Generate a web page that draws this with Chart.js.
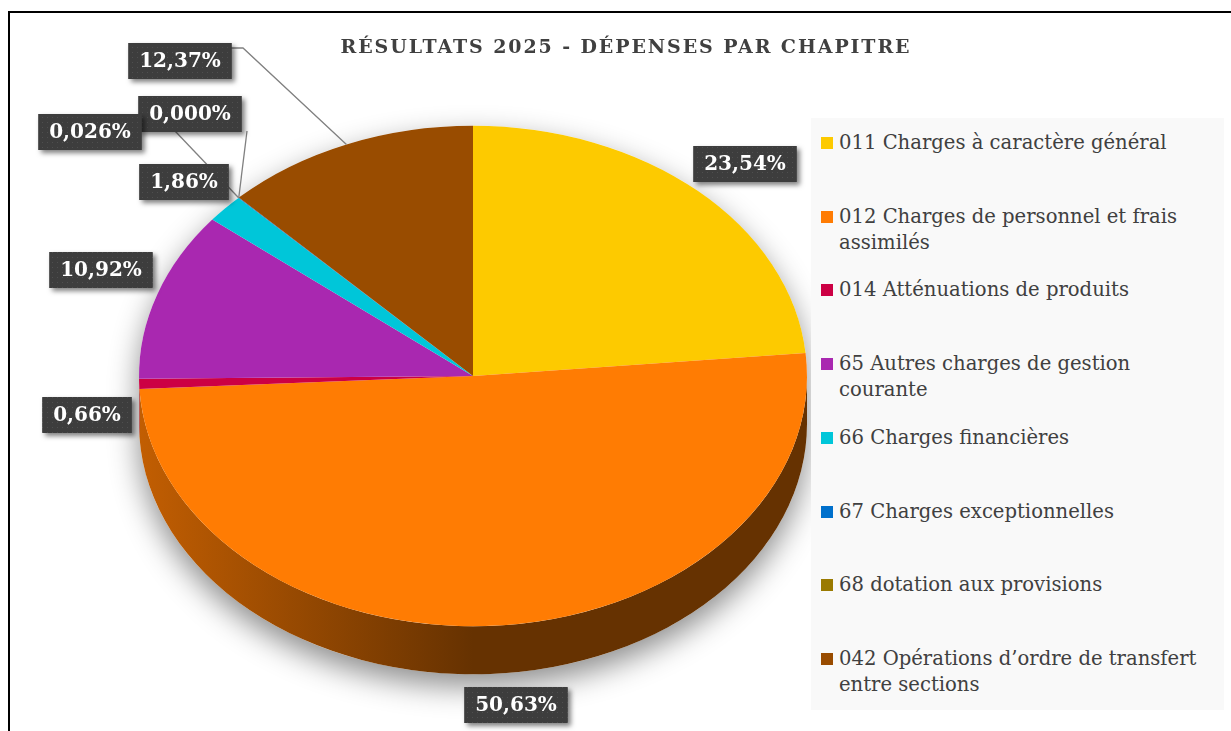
<!DOCTYPE html>
<html lang="fr">
<head>
<meta charset="utf-8">
<title>Résultats 2025 - dépenses par chapitre</title>
<script src="https://cdn.jsdelivr.net/npm/chart.js@4.4.1/dist/chart.umd.min.js"></script>
<style>
  html, body { margin: 0; padding: 0; width: 1231px; height: 731px; overflow: hidden; background: #fff; }
  #frame { position: absolute; left: 8px; top: 11px; width: 1260px; height: 760px; border: 2px solid #000; box-sizing: border-box; }
  #chart { position: absolute; left: 0; top: 0; }
  #title { position: absolute; left: 0; top: 35px; width: 1252px; text-align: center;
           font: bold 19px "DejaVu Serif", serif; letter-spacing: 1.9px; color: #404040; }
  #legend { position: absolute; left: 811px; top: 118px; width: 413px; height: 592px; background: #f9f9f9; }
  .item { position: absolute; left: 0; width: 413px; font: 19.6px/26px "DejaVu Serif", serif; color: #404040; }
  .item .box { position: absolute; left: 10px; top: 7px; width: 12px; height: 12px; }
  .item .txt { position: absolute; left: 28px; top: 0; white-space: nowrap; }
</style>
</head>
<body>
<div id="frame"></div>
<canvas id="chart" width="1231" height="731"></canvas>
<div id="title">RÉSULTATS 2025 - DÉPENSES PAR CHAPITRE</div>
<div id="legend"></div>
<script>
// chapitres, dans l'ordre du camembert (sens horaire depuis midi)
const labels = [
    ['011 Charges à caractère général'],
    ['012 Charges de personnel et frais', 'assimilés'],
    ['014 Atténuations de produits'],
    ['65 Autres charges de gestion', 'courante'],
    ['66 Charges financières'],
    ['67 Charges exceptionnelles'],
    ['68 dotation aux provisions'],
    ['042 Opérations d’ordre de transfert', 'entre sections']
];
const parts = [23.54, 50.63, 0.66, 10.92, 1.86, 0.026, 0.000, 12.37];
const decimals = [2, 2, 2, 2, 2, 3, 3, 2];
const colors = ['#fdca00', '#ff7c03', '#cc0044', '#a928b0', '#00c6d9', '#0070cc', '#9a7a00', '#994c00'];

// emplacement des étiquettes (centre de la boîte) et départ des traits de rappel
const labelAt = [[745, 164], [516, 705], [87, 415], [101, 270], [184, 182], [90, 132], [190, 114], [180, 61]];
const leaderFrom = { 5: [[175, 131]], 6: [[247, 131]], 7: [[230, 48], [243, 48]] };

const tilt = 251 / 335;
const depth = 48;

function shade(hex, f) {
    const n = parseInt(hex.slice(1), 16);
    const r = Math.round(((n >> 16) & 255) * f);
    const g = Math.round(((n >> 8) & 255) * f);
    const b = Math.round((n & 255) * f);
    return `rgb(${r},${g},${b})`;
}

function fmt(v, d) {
    return v.toLocaleString('fr-FR', { minimumFractionDigits: d, maximumFractionDigits: d }) + '%';
}

// légende à droite
const legendEl = document.getElementById('legend');
labels.forEach((lines, i) => {
    const div = document.createElement('div');
    div.className = 'item';
    div.style.top = (25 + i * 73.7 - 13) + 'px';
    div.innerHTML = `<span class="box" style="background:${colors[i]}"></span>
                     <span class="txt">${lines.join('<br>')}</span>`;
    legendEl.appendChild(div);
});

// petit motif pointillé des étiquettes
const pat = document.createElement('canvas');
pat.width = 5; pat.height = 5;
const pctx = pat.getContext('2d');
pctx.fillStyle = '#3d3d3d';
pctx.fillRect(0, 0, 5, 5);
pctx.fillStyle = '#4f4f4f';
pctx.fillRect(2, 2, 1, 1);

const pie3d = {
    id: 'pie3d',
    beforeDatasetsDraw(chart) {
        const ctx = chart.ctx;
        const arcs = chart.getDatasetMeta(0).data;
        const { x: cx, y: cy, outerRadius: r } = arcs[0];
        const ry = r * tilt;

        // ombre portée sous le camembert
        ctx.save();
        ctx.shadowColor = 'rgba(0,0,0,0.45)';
        ctx.shadowBlur = 30;
        ctx.shadowOffsetY = 12;
        ctx.fillStyle = '#fff';
        ctx.beginPath();
        ctx.ellipse(cx, cy, r, ry, 0, Math.PI, 0);
        ctx.ellipse(cx, cy + depth, r, ry, 0, 0, Math.PI);
        ctx.closePath();
        ctx.fill();
        ctx.restore();

        // flancs visibles (moitié avant)
        arcs.forEach((arc, i) => {
            const s = Math.max(arc.startAngle, 0);
            const e = Math.min(arc.endAngle, Math.PI);
            if (e <= s) return;
            const grad = ctx.createLinearGradient(cx - r, 0, cx, 0);
            grad.addColorStop(0, shade(colors[i], 0.76));
            grad.addColorStop(1, shade(colors[i], 0.4));
            ctx.fillStyle = grad;
            ctx.beginPath();
            ctx.ellipse(cx, cy, r, ry, 0, s, e);
            ctx.ellipse(cx, cy + depth, r, ry, 0, e, s, true);
            ctx.closePath();
            ctx.fill();
        });

        // face supérieure aplatie
        ctx.save();
        ctx.translate(cx, cy);
        ctx.scale(1, tilt);
        ctx.translate(-cx, -cy);
    },
    afterDatasetsDraw(chart) {
        chart.ctx.restore();
    },
    afterDraw(chart) {
        const ctx = chart.ctx;
        const arcs = chart.getDatasetMeta(0).data;
        const { x: cx, y: cy, outerRadius: r } = arcs[0];
        const ry = r * tilt;

        // traits de rappel
        ctx.save();
        ctx.strokeStyle = '#808080';
        ctx.lineWidth = 1.3;
        Object.keys(leaderFrom).forEach(k => {
            const arc = arcs[k];
            const a = (arc.startAngle + arc.endAngle) / 2;
            const pts = leaderFrom[k].concat([[cx + r * Math.cos(a), cy + ry * Math.sin(a)]]);
            ctx.beginPath();
            ctx.moveTo(pts[0][0], pts[0][1]);
            pts.slice(1).forEach(p => ctx.lineTo(p[0], p[1]));
            ctx.stroke();
        });
        ctx.restore();

        // étiquettes de valeurs
        ctx.save();
        ctx.font = 'bold 20px "DejaVu Serif", serif';
        ctx.textAlign = 'center';
        ctx.textBaseline = 'middle';
        const pattern = ctx.createPattern(pat, 'repeat');
        for (let i = parts.length - 1; i >= 0; i--) {
            const txt = fmt(parts[i], decimals[i]);
            const w = ctx.measureText(txt).width + 22;
            const h = 36;
            const [x, y] = labelAt[i];
            ctx.save();
            ctx.shadowColor = 'rgba(0,0,0,0.5)';
            ctx.shadowBlur = 5;
            ctx.shadowOffsetX = 3;
            ctx.shadowOffsetY = 3;
            ctx.fillStyle = pattern;
            ctx.fillRect(x - w / 2, y - h / 2, w, h);
            ctx.restore();
            ctx.fillStyle = '#ffffff';
            ctx.fillText(txt, x, y + 1);
        }
        ctx.restore();
    }
};

new Chart(document.getElementById('chart'), {
    type: 'pie',
    data: {
        labels: labels,
        datasets: [{
            data: parts,
            backgroundColor: colors,
            borderWidth: 0
        }]
    },
    options: {
        responsive: false,
        animation: false,
        events: [],
        layout: { padding: { left: 138, right: 1231 - 808, top: 42, bottom: 21 } },
        plugins: {
            legend: { display: false },
            title: { display: false },
            tooltip: { enabled: false }
        }
    },
    plugins: [pie3d]
});
</script>
</body>
</html>
